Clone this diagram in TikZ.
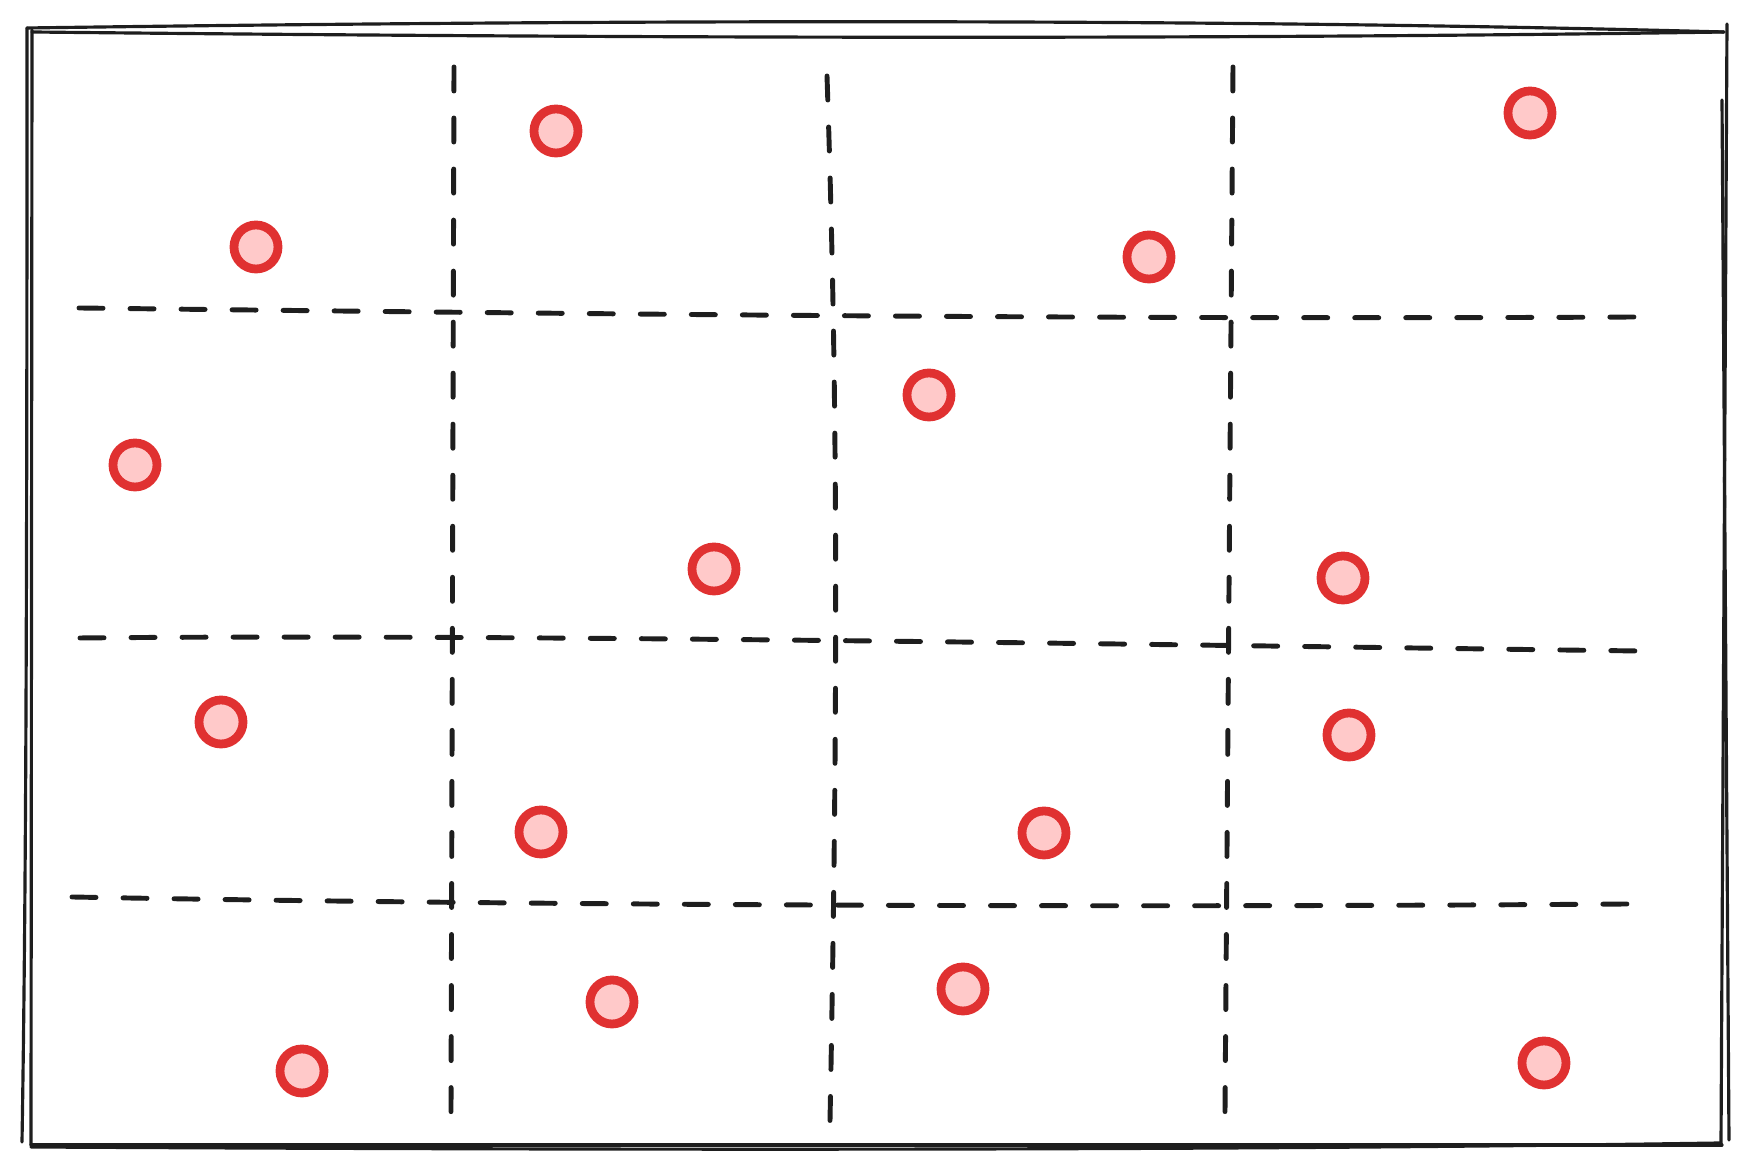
\documentclass[tikz,border=0pt]{standalone}
\usepackage{tikz}
\usepackage{xcolor}
\usetikzlibrary{calc}
\definecolor{inkblack}{HTML}{1E1E1E}
\definecolor{dotred}{HTML}{E03131}
\definecolor{dotpink}{HTML}{FFC9C9}

\begin{document}
\begin{tikzpicture}[x=0.01cm, y=-0.01cm, line cap=round, line join=round,
  frame/.style={inkblack, line width=0.9pt},
  gridline/.style={inkblack, line width=1.4pt, dash pattern=on 0.24cm off 0.27cm},
  point/.style={circle, draw=dotred, fill=dotpink, line width=2.5pt, minimum size=0.44cm, inner sep=0pt}]

  \useasboundingbox (0,0) rectangle (1753,1174);

  % Outer frame (sketchy, every side drawn twice)
  \draw[frame] (27,28) .. controls (600,20) and (1200,18) .. (1724,32);
  \draw[frame] (32,32) .. controls (600,38) and (1200,40) .. (1724,32);
  \draw[frame] (1727,24) -- (1721,1145);
  \draw[frame] (1722,100) -- (1729,1140);
  \draw[frame] (31,1145) -- (1722,1145);
  \draw[frame] (31,1147) .. controls (600,1150) and (1200,1151) .. (1720,1143);
  \draw[frame] (32,30) -- (31,1145);
  \draw[frame] (27,28) .. controls (27,600) and (26,900) .. (22,1142);

  % Grid corners
  \coordinate (V1t) at (454,67);   \coordinate (V1b) at (451,1112);
  \coordinate (V2t) at (827,76);   \coordinate (V2b) at (830,1121);
  \coordinate (V3t) at (1233,67);  \coordinate (V3b) at (1225,1112);
  \coordinate (H1l) at (79,308);   \coordinate (H1r) at (1636,317);
  \coordinate (H2l) at (80,638);   \coordinate (H2r) at (1638,651);
  \coordinate (H3l) at (72,897);   \coordinate (H3r) at (1628,904);

  % Vertical dashed lines
  \draw[gridline] (V1t) -- (V1b);
  \draw[gridline] (V2t) .. controls (838,400) and (838,700) .. (V2b);
  \draw[gridline] (V3t) -- (V3b);

  % Horizontal dashed lines
  \draw[gridline] (H1l) .. controls (500,313) and (1100,320) .. (H1r);
  \draw[gridline] (H2l) .. controls (500,634) and (1100,644) .. (H2r);
  \draw[gridline] (H3l) .. controls (500,905) and (1100,908) .. (H3r);

  % Points
  \foreach \px/\py [count=\i] in {556/131, 256/247, 1530/113, 1149/257,
      929/395, 135/465, 714/569, 1343/578, 221/722, 1349/735,
      541/832, 1044/833, 612/1002, 963/989, 302/1071, 1544/1063} {
    \node[point] (d\i) at (\px,\py) {};
  }
\end{tikzpicture}
\end{document}
